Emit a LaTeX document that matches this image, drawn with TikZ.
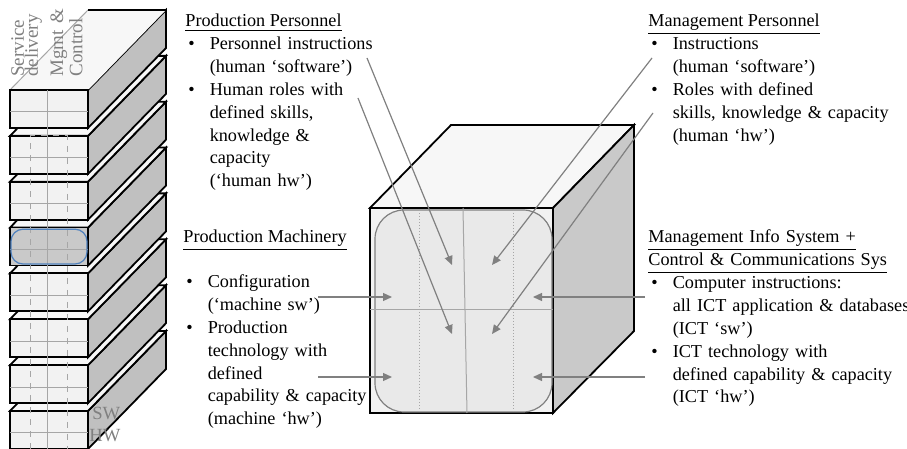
\documentclass[tikz,border=0pt]{standalone}
\usepackage{fontspec}
\setmainfont{Liberation Serif}
\usetikzlibrary{positioning,arrows.meta}

\definecolor{facelight}{HTML}{F2F2F2}
\definecolor{facetop}{HTML}{F7F7F7}
\definecolor{faceside}{HTML}{C0C0C0}
\definecolor{facehl}{HTML}{C9C9C9}
\definecolor{innerfill}{HTML}{E9E9E9}
\definecolor{linegray}{HTML}{808080}
\definecolor{guidegray}{HTML}{A6A6A6}
\definecolor{hlblue}{HTML}{4F81BD}

\newcommand{\bulitem}[1]{\noindent\hangindent=12.2pt\makebox[12.2pt][l]{\hspace{1.5pt}\textbullet}#1\par}

\tikzset{
  blackedge/.style={draw=black, line width=0.9pt, line join=miter},
  slabfront/.style={blackedge, fill=facelight},
  slabtop/.style={blackedge, fill=facetop},
  slabside/.style={blackedge, fill=faceside},
  guide/.style={draw=guidegray, line width=0.5pt},
  arr/.style={draw=linegray, line width=0.6pt, -{Triangle[length=4.5pt,width=4pt]}},
  headtext/.style={anchor=base west, inner sep=0pt, font=\fontsize{9.1}{11.4}\selectfont},
  listtext/.style={anchor=base west, inner sep=0pt, text width=150pt, font=\fontsize{9.1}{11.4}\selectfont},
  rotlabel/.style={rotate=90, anchor=base west, inner sep=0pt, text width=45pt, text=linegray, font=\fontsize{9.5}{7}\selectfont},
  graylabel/.style={anchor=base west, inner sep=0pt, text=linegray, font=\fontsize{9.3}{11.4}\selectfont}
}

\begin{document}
\begin{tikzpicture}[x=0.5pt, y=-0.5pt]
\useasboundingbox (0,0) rectangle (907,449);

% stack of slabs, bottom first
\filldraw[slabside] (88,411)--(166,331)--(166,369)--(88,449)--cycle;
\filldraw[slabtop] (10,411)--(88,331)--(166,331)--(88,411)--cycle;
\filldraw[slabfront] (10,411) rectangle (88,449);
\filldraw[slabside] (88,365.2)--(166,285.2)--(166,323.2)--(88,403.2)--cycle;
\filldraw[slabtop] (10,365.2)--(88,285.2)--(166,285.2)--(88,365.2)--cycle;
\filldraw[slabfront] (10,365.2) rectangle (88,403.2);
\filldraw[slabside] (88,319.3)--(166,239.3)--(166,277.3)--(88,357.3)--cycle;
\filldraw[slabtop] (10,319.3)--(88,239.3)--(166,239.3)--(88,319.3)--cycle;
\filldraw[slabfront] (10,319.3) rectangle (88,357.3);
\filldraw[slabside] (88,273.4)--(166,193.4)--(166,231.4)--(88,311.4)--cycle;
\filldraw[slabtop] (10,273.4)--(88,193.4)--(166,193.4)--(88,273.4)--cycle;
\filldraw[slabfront] (10,273.4) rectangle (88,311.4);
\filldraw[slabside] (88,227.6)--(166,147.6)--(166,185.6)--(88,265.6)--cycle;
\filldraw[slabtop] (10,227.6)--(88,147.6)--(166,147.6)--(88,227.6)--cycle;
\filldraw[slabfront, fill=facehl] (10,227.6) rectangle (88,265.6);
\filldraw[slabside] (88,181.7)--(166,101.7)--(166,139.7)--(88,219.7)--cycle;
\filldraw[slabtop] (10,181.7)--(88,101.7)--(166,101.7)--(88,181.7)--cycle;
\filldraw[slabfront] (10,181.7) rectangle (88,219.7);
\filldraw[slabside] (88,135.9)--(166,55.9)--(166,93.9)--(88,173.9)--cycle;
\filldraw[slabtop] (10,135.9)--(88,55.9)--(166,55.9)--(88,135.9)--cycle;
\filldraw[slabfront] (10,135.9) rectangle (88,173.9);
\filldraw[slabside] (88,90)--(166,10)--(166,48)--(88,128)--cycle;
\fill[facetop] (10,90)--(88,10)--(166,10)--(88,90)--cycle;
\draw[guide] (10,90)--(88,10);
\draw[blackedge] (88,10)--(166,10);
\filldraw[slabfront] (10,90) rectangle (88,128);

% grid on the stack
\draw[guide] (10,112)--(88,112) (10,157.9)--(88,157.9) (10,203.7)--(88,203.7) (10,249.6)--(88,249.6)
  (10,295.4)--(88,295.4) (10,341.3)--(88,341.3) (10,387.2)--(88,387.2) (10,433)--(88,433);
\draw[guide] (47,90)--(47,449);
\draw[guide, dashed] (30,449)--(30,135.9)--(67,135.9)--(67,449);
\draw[hlblue, line width=0.6pt, rounded corners=6pt] (11,229.2) rectangle (87,264);

\node (svcLbl) [rotlabel] at (24,77) {Service\newline delivery};
\node (mgmtLbl) [rotlabel] at (63,77) {Mgmt \&\newline Control};
\node (swLbl) [graylabel] at (92,420) {SW};
\node (hwLbl) [graylabel] at (89,442) {HW};

% the cube
\filldraw[slabtop] (370,208)--(451,125)--(634,125)--(553,208)--cycle;
\filldraw[slabside, fill=facehl] (553,208)--(634,125)--(634,331)--(553,413)--cycle;
\filldraw[slabfront] (370,208) rectangle (553,413);
\filldraw[fill=innerfill, draw=linegray, line width=0.6pt, rounded corners=14.5pt] (375,210) rectangle (552,412);
\draw[guide] (463,208)--(467,413);
\draw[guide, densely dotted] (419,210)--(419,412) (513,210)--(513,412);
\draw[guide] (370,310)--(553,310);

% texts
\node (ppHead) [headtext] at (185,27) {\underline{Production Personnel}};
\node (ppList) [listtext] at (185,50) {\bulitem{Personnel instructions\newline (human `software')}\bulitem{Human roles with\newline defined skills,\newline knowledge \&\newline capacity\newline (`human hw')}};

\node (pmHead) [headtext] at (183,243) {\underline{Production Machinery}};
\node (pmList) [listtext] at (183,288) {\bulitem{Configuration\newline (`machine sw')}\bulitem{Production\newline technology with\newline defined\newline capability \& capacity\newline (machine `hw')}};

\node (mpHead) [headtext] at (648,27) {\underline{Management Personnel}};
\node (mpList) [listtext] at (648,50) {\bulitem{Instructions\newline (human `software')}\bulitem{Roles with defined\newline skills, knowledge \& capacity\newline (human `hw')}};

\node (misHead) [listtext] at (648,243) {\underline{Management Info System +}\newline \underline{Control \& Communications Sys}};
\node (misList) [listtext] at (648,289) {\bulitem{Computer instructions:\newline all ICT application \& databases\newline (ICT `sw')}\bulitem{ICT technology with\newline defined capability \& capacity\newline (ICT `hw')}};

% arrow ends
\coordinate (ppInstrS) at (367,58);
\coordinate (ppInstrE) at (452,265);
\coordinate (ppRoleS) at (358,98);
\coordinate (ppRoleE) at (452,334);
\coordinate (mpInstrS) at (652,58);
\coordinate (mpInstrE) at (492,265);
\coordinate (mpRoleS) at (653,113);
\coordinate (mpRoleE) at (492,334);
\coordinate (pmConfS) at (318,297);
\coordinate (pmConfE) at (392,297);
\coordinate (pmTechS) at (318,377);
\coordinate (pmTechE) at (392,377);
\coordinate (misSwS) at (645,297);
\coordinate (misSwE) at (533,297);
\coordinate (misHwS) at (645,377);
\coordinate (misHwE) at (533,377);

\draw[arr] (ppInstrS) -- (ppInstrE);
\draw[arr] (ppRoleS) -- (ppRoleE);
\draw[arr] (mpInstrS) -- (mpInstrE);
\draw[arr] (mpRoleS) -- (mpRoleE);
\draw[arr] (pmConfS) -- (pmConfE);
\draw[arr] (pmTechS) -- (pmTechE);
\draw[arr] (misSwS) -- (misSwE);
\draw[arr] (misHwS) -- (misHwE);
\end{tikzpicture}
\end{document}
